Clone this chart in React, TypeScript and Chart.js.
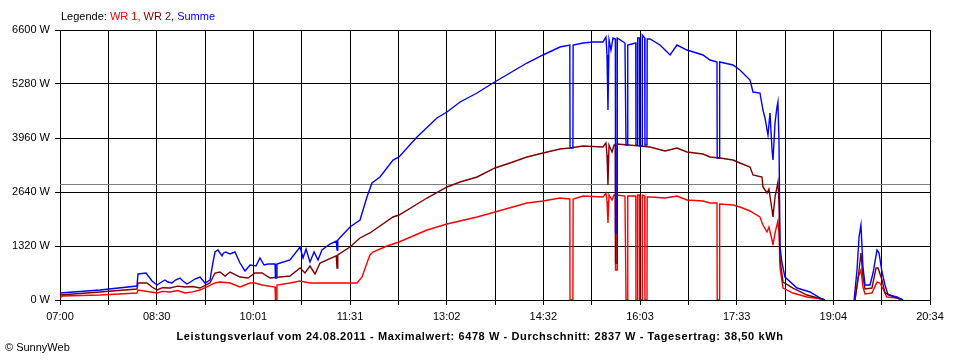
import React, { useEffect, useRef } from 'react';
import { Chart, registerables } from 'chart.js';

Chart.register(...registerables);

// ---- data (minutes after 07:00, watts) ----
const xTickLabels = ['07:00', '08:30', '10:01', '11:31', '13:02', '14:32', '16:03', '17:33', '19:04', '20:34'];
const dayMinutes = 814; // 07:00 .. 20:34
const yTickValues = [0, 1320, 2640, 3960, 5280, 6600];
const averageWatts = 2837;
const maxWatts = 6478;
const dayYield = '38,50';
const dateLabel = '24.08.2011';

const summePoints: [number, number | null][] = [
  [0, 171], [37.4, 244], [72.0, 342], [73.0, 636], [80.5, 660], [86.1, 464], [90.8, 367], [95.0, 440], [98.2, 489],
  [101.0, 440], [104.8, 416], [108.0, 489], [112.3, 538], [115.0, 464], [118.8, 391], [122.0, 440], [126.3, 513],
  [131.0, 562], [135.7, 416], [140.3, 489], [143.0, 900],
  [145.0, 1173], [147.8, 1222], [151.6, 1076], [153.0, 1150], [155.3, 1173], [159.1, 1124], [163.7, 1173], [168.4, 904],
  [173.1, 709], [177.8, 856], [183.4, 831], [187.1, 1027], [190.9, 856], [194.6, 880], [201.2, 880],
  [201.6, 538], [202.4, 538], [203.0, 880], [215.2, 978], [224.6, 1296], [227.4, 1027], [230.2, 1247],
  [233.9, 929], [237.7, 1173], [241.4, 978], [245.1, 1222], [252.6, 1369], [258.5, 1440], [259.2, 1222],
  [259.9, 1467], [271.3, 1784], [280.7, 1956], [287.2, 2518], [291.9, 2860], [299.4, 3007], [311.6, 3422],
  [317.2, 3496], [334.0, 3984], [352.7, 4449], [362.1, 4596], [374.3, 4840], [390.2, 5060], [405.1, 5304],
  [421.0, 5549], [436.9, 5793], [451.9, 5989], [467.8, 6184], [477.0, 6233], [477.2, 3715], [479.9, 3715],
  [480.1, 6233], [489.3, 6282], [498.7, 6306], [508.0, 6306], [510.8, 6428], [511.8, 5989], [512.7, 4644],
  [513.7, 6355], [515.5, 6111], [517.4, 6404], [519.6, 6380], [519.8, 1640], [521.2, 1640], [521.4, 6404],
  [528.6, 6282], [529.6, 3789], [531.0, 3789], [531.2, 6233], [538.7, 6282], [538.9, 3789], [540.3, 3789],
  [540.5, 6404], [542.2, 6404], [542.4, 3764], [544.6, 3764], [544.8, 6478], [547.1, 6404], [547.3, 3789],
  [549.2, 3789], [549.4, 6380], [552.0, 6380], [561.4, 6233], [566.1, 6111], [570.8, 5989], [577.3, 6233],
  [586.6, 6111], [601.6, 5989], [608.2, 5866], [614.7, 5818], [614.9, 3471], [617.0, 3471], [617.2, 5818],
  [629.7, 5744], [636.2, 5622], [645.6, 5378], [648.4, 5084], [654.9, 5060], [657.7, 4644], [659.6, 4449],
  [662.4, 4033], [664.3, 4571], [666.2, 3667], [667.1, 3422], [669.0, 4327], [670.8, 4718], [671.7, 4840],
  [672.7, 3911], [673.7, 1296], [675.5, 904], [678.3, 562], [689.6, 293], [701.7, 196], [712.9, 24],
  [715.7, 0], [730, null], [743.0, 0], [745.7, 733], [747.6, 1540], [749.4, 1833], [751.3, 807],
  [753.2, 367], [757.9, 367], [760.7, 660], [764.4, 1222], [766.3, 1149], [769.1, 684], [771.9, 367],
  [774.7, 122], [783.1, 73], [788.7, 0],
];

const wr2Points: [number, number | null][] = [
  [0, 122], [37.4, 196], [72.0, 269], [73.0, 416], [81.4, 416], [86.0, 318], [90.8, 244], [96.0, 300], [102.9, 293],
  [110.0, 340], [117.0, 318], [124.0, 330], [131.0, 293], [140.3, 416], [145.0, 660], [149.7, 684], [154.4, 587], [159.1, 684],
  [168.4, 562], [175.9, 538], [182.4, 660], [189.0, 660], [196.5, 538], [215.2, 587], [224.6, 782],
  [229.2, 660], [233.9, 831], [238.6, 636], [243.3, 904], [258.5, 1080], [259.2, 782], [259.9, 1100],
  [271.3, 1296], [280.7, 1516], [290.0, 1638], [311.6, 2029], [317.2, 2078], [343.4, 2493], [362.1, 2762],
  [374.3, 2884], [390.2, 3007], [407.0, 3227], [421.0, 3349], [436.9, 3496], [451.9, 3593], [467.8, 3691],
  [477.2, 3715], [489.3, 3764], [508.0, 3740], [510.8, 3838], [511.8, 3544], [512.7, 2811], [513.7, 3789],
  [516.5, 3618], [518.4, 3789], [519.6, 3789], [519.8, 904], [521.2, 904], [521.4, 3813], [542.6, 3764],
  [552.0, 3740], [566.1, 3642], [577.3, 3715], [586.6, 3618], [601.6, 3569], [608.2, 3496], [617.5, 3471],
  [629.7, 3422], [636.2, 3349], [645.6, 3251], [648.4, 3056], [656.8, 3007], [657.7, 2762], [661.5, 2616],
  [663.3, 2713], [666.2, 2200], [667.1, 2029], [669.0, 2518], [671.7, 2884], [672.7, 2371], [673.7, 978],
  [676.5, 440], [685.8, 293], [698.9, 122], [712.9, 24], [715.7, 0], [730, null], [743.8, 0], [746.6, 489],
  [749.4, 1149], [751.3, 562], [753.2, 269], [759.7, 293], [763.5, 782], [765.4, 782], [769.1, 489],
  [771.9, 171], [783.1, 49], [788.7, 0],
];

const wr1Points: [number, number | null][] = [
  [0, 49], [1.9, 98], [37.4, 122], [72.0, 171], [73.0, 244], [90.8, 171], [96.0, 210], [102.9, 196], [110.0, 230],
  [117.0, 171], [124.0, 200], [131.0, 244], [145.0, 416], [149.7, 440], [159.1, 416], [168.4, 318], [177.8, 416], [182.4, 416],
  [189.0, 367], [201.2, 318], [201.6, 0], [202.4, 0], [203.0, 367], [215.2, 416], [224.6, 464],
  [233.9, 416], [243.3, 416], [264.8, 416], [277.9, 416], [282.6, 562], [287.2, 904], [290.0, 1100],
  [292.8, 1173], [305.9, 1320], [317.2, 1418], [343.4, 1711], [362.1, 1858], [390.2, 2029], [407.0, 2151],
  [436.9, 2371], [451.9, 2420], [467.8, 2493], [477.0, 2469], [477.2, 0], [479.9, 0], [480.1, 2469],
  [489.3, 2542], [508.0, 2518], [510.8, 2616], [511.8, 2420], [512.7, 1882], [513.7, 2567], [516.5, 2444],
  [518.4, 2567], [519.6, 2567], [519.8, 733], [521.2, 733], [521.4, 2567], [528.6, 2542], [529.6, 0],
  [531.0, 0], [531.2, 2542], [538.7, 2542], [538.9, 0], [540.3, 0], [540.5, 2567], [542.2, 2567],
  [542.4, 0], [544.6, 0], [544.8, 2567], [547.1, 2542], [547.3, 0], [549.2, 0], [549.4, 2518],
  [552.0, 2518], [566.1, 2493], [577.3, 2542], [586.6, 2444], [601.6, 2420], [608.2, 2371], [614.7, 2371],
  [614.9, 0], [617.0, 0], [617.2, 2347], [629.7, 2322], [636.2, 2273], [645.6, 2176], [654.9, 2029],
  [657.7, 1833], [661.5, 1662], [663.3, 1784], [666.2, 1467], [667.1, 1344], [669.0, 1638], [671.7, 1931],
  [672.7, 1638], [673.7, 782], [676.5, 293], [685.8, 171], [698.9, 73], [712.9, 24], [715.7, 0], [730, null],
  [743.8, 0], [746.6, 538], [749.4, 733], [751.3, 318], [753.2, 147], [759.7, 171], [764.4, 440],
  [767.2, 416], [770.0, 269], [773.7, 73], [783.1, 49], [788.7, 0],
];

const FONT = '"Liberation Sans", Arial, sans-serif';

export default function App() {
  const ref = useRef<HTMLCanvasElement>(null);

  useEffect(() => {
    const toXY = (pts: [number, number | null][]) => pts.map(([x, y]) => ({ x, y }));
    const titleText = `Leistungsverlauf vom ${dateLabel} - Maximalwert: ${maxWatts} W - Durchschnitt: ${averageWatts} W - Tagesertrag: ${dayYield} kWh`;

    const averagePlugin = {
      id: 'averageLine',
      beforeDatasetsDraw(chart: any) {
        const { ctx, chartArea, scales } = chart;
        const y = Math.round(scales.y.getPixelForValue(averageWatts)) + 0.5;
        ctx.save();
        ctx.strokeStyle = '#808080';
        ctx.lineWidth = 1;
        ctx.beginPath();
        ctx.moveTo(chartArea.left, y);
        ctx.lineTo(chartArea.right, y);
        ctx.stroke();
        ctx.restore();
      },
    };

    const textPlugin = {
      id: 'sunnyText',
      afterDraw(chart: any) {
        const ctx = chart.ctx as CanvasRenderingContext2D;
        ctx.save();
        ctx.font = `11px ${FONT}`;
        ctx.textBaseline = 'middle';
        ctx.textAlign = 'left';
        let x = 61;
        const parts: [string, string][] = [
          ['Legende: ', '#000000'],
          ['WR 1, ', '#ff0000'],
          ['WR 2, ', '#800000'],
          ['Summe', '#0000ff'],
        ];
        for (const [t, c] of parts) {
          ctx.fillStyle = c;
          ctx.fillText(t, x, 17);
          x += ctx.measureText(t).width;
        }
        ctx.fillStyle = '#000';
        ctx.font = `bold 11px ${FONT}`;
        ctx.textAlign = 'center';
        (ctx as any).letterSpacing = '0.6px';
        ctx.fillText(titleText, 480, 337);
        (ctx as any).letterSpacing = '0px';
        ctx.font = `11px ${FONT}`;
        ctx.textAlign = 'left';
        ctx.fillText('\u00A9 SunnyWeb', 5, 348);
        ctx.restore();
      },
    };

    const tickFont = { family: FONT, size: 11 };
    const lineDs = (label: string, pts: [number, number | null][], color: string, order: number) => ({
      label,
      data: toXY(pts),
      borderColor: color,
      borderWidth: 1.4,
      pointRadius: 0,
      tension: 0,
      spanGaps: false,
      fill: false,
      order,
    });

    const chart = new Chart(ref.current as HTMLCanvasElement, {
      type: 'line',
      data: {
        datasets: [
          lineDs('Summe', summePoints, '#0000ff', 0),
          lineDs('WR 2', wr2Points, '#800000', 1),
          lineDs('WR 1', wr1Points, '#ff0000', 2),
        ],
      },
      options: {
        animation: false,
        responsive: false,
        maintainAspectRatio: false,
        events: [],
        layout: { padding: { top: 30, right: 30, left: 0, bottom: 0 } },
        plugins: {
          legend: { display: false },
          tooltip: { enabled: false },
          title: { display: false },
        },
        scales: {
          x: {
            type: 'linear',
            min: 0,
            max: dayMinutes,
            afterBuildTicks: (s: any) => {
              s.ticks = Array.from({ length: 19 }, (_, i) => ({ value: (i * dayMinutes) / 18 }));
            },
            afterFit: (s: any) => {
              s.height = 60;
            },
            ticks: {
              autoSkip: false,
              maxRotation: 0,
              minRotation: 0,
              padding: 5,
              color: '#000',
              font: tickFont,
              callback: (_v: any, i: number) => (i % 2 === 0 ? xTickLabels[i / 2] : ''),
            },
            grid: { color: '#000', lineWidth: 1, tickLength: 5, drawTicks: true },
            border: { color: '#000', width: 1 },
          },
          y: {
            min: 0,
            max: 6600,
            afterBuildTicks: (s: any) => {
              s.ticks = yTickValues.map((v) => ({ value: v }));
            },
            afterFit: (s: any) => {
              s.width = 60;
            },
            ticks: {
              padding: 5,
              color: '#000',
              font: tickFont,
              callback: (v: any) => `${v} W`,
            },
            grid: { color: '#000', lineWidth: 1, tickLength: 5, drawTicks: true },
            border: { color: '#000', width: 1 },
          },
        },
      },
      plugins: [averagePlugin, textPlugin],
    } as any);
    return () => chart.destroy();
  }, []);

  return (
    <div style={{ position: 'fixed', left: 0, top: 0, width: 960, height: 360, background: '#fff' }}>
      <canvas ref={ref} width={960} height={360} style={{ display: 'block', width: 960, height: 360 }} />
    </div>
  );
}
